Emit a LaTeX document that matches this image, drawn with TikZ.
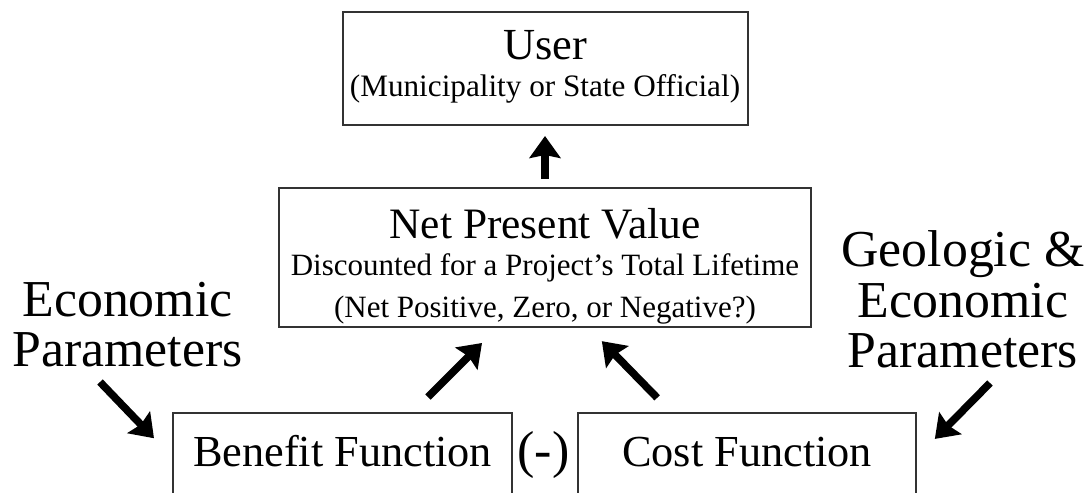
\documentclass[tikz,border=0pt]{standalone}
\usepackage{fontspec}
\setmainfont{Liberation Serif}
\usetikzlibrary{arrows.meta}

\begin{document}
\begin{tikzpicture}[x=0.5pt,y=-0.5pt,
  box/.style={draw=black!80, line width=1pt, inner sep=0pt},
  arr/.style={line width=3.8pt, -{Stealth[length=11pt,width=15.5pt,inset=1.5pt]}}]

\useasboundingbox (0,0) rectangle (1084,493);

\node[box, align=center, minimum width=202.5pt, minimum height=56.5pt, font=\fontsize{15.6}{18.5}\selectfont] (user) at (545,68.5) {{\fontsize{22.2}{22}\selectfont User}\\(Municipality or State Official)\rule[-5.3pt]{0pt}{5.3pt}};
\node[box, align=center, minimum width=266pt, minimum height=69.5pt, font=\fontsize{15.5}{18.5}\selectfont] (npv) at (545,257.5) {\rule{0pt}{23.5pt}{\fontsize{21.7}{22}\selectfont Net Present Value}\\Discounted for a Project's Total Lifetime\\[2.5pt](Net Positive, Zero, or Negative?)};

\node[box, anchor=north, minimum width=169.5pt, text height=26.5pt, text depth=17.5pt, font=\fontsize{22.15}{24}\selectfont] (ben) at (342.5,412) {Benefit Function};
\node[box, anchor=north, minimum width=169pt, text height=26.5pt, text depth=17.5pt, font=\fontsize{22.15}{24}\selectfont] (cost) at (747,412) {Cost Function};
\node[inner sep=0pt, font=\fontsize{26}{26}\selectfont] (minus) at (543.5,455) {(-)};

\node[align=center, inner sep=0pt, font=\fontsize{25.9}{25.25}\selectfont] (econ) at (127.5,324.5) {Economic\\Parameters};
\node[align=center, inner sep=0pt, font=\fontsize{25.9}{25.25}\selectfont] (geo) at (963,299.5) {Geologic \&\\Economic\\Parameters};

\draw[arr, shorten <=4pt, shorten >=5pt] (npv.north) -- (user.south);
\draw[arr, shorten <=10.6pt, shorten >=10.6pt] ([xshift=35.25pt]ben.north) -- ([xshift=-24pt]npv.south);
\draw[arr, shorten <=9.9pt, shorten >=9.2pt] ([xshift=-38pt]cost.north) -- ([xshift=22pt]npv.south);

\coordinate (econtail) at (100,382);
\draw[arr, shorten >=13pt] (econtail) -- (ben.west);
\coordinate (geotail) at (990,383);
\draw[arr, shorten >=12.7pt] (geotail) -- (cost.east);

\end{tikzpicture}
\end{document}
